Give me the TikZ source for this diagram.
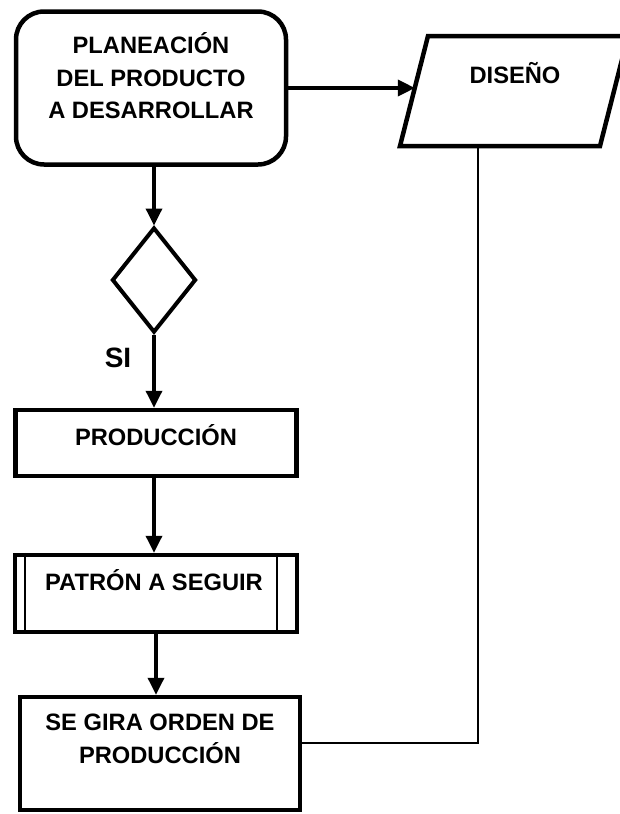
\documentclass[tikz,border=0pt]{standalone}
\usepackage{fontspec}
\setmainfont{Liberation Sans}
\usetikzlibrary{shapes.geometric,arrows.meta}

\begin{document}
\begin{tikzpicture}[x=1pt,y=-1pt,
  box/.style={draw,rectangle,inner sep=0pt,line width=4.5pt},
  caption/.style={inner sep=0pt,align=center,
    font=\fontsize{23.7}{32.5}\selectfont\bfseries},
  flow/.style={line width=3.5pt,-{Triangle[length=17pt,width=16pt]}},
  link/.style={line width=1.8pt},
  subline/.style={line width=1.8pt}
]
\useasboundingbox (0,0) rectangle (620,814);

% planning box
\node[box,rounded corners=28pt,minimum width=270pt,minimum height=153pt]
  (plan) at (151,88) {};
\node[caption] (plantext) at (151,76)
  {PLANEACIÓN\\DEL PRODUCTO\\A DESARROLLAR};

% design (parallelogram)
\coordinate (dBL) at (400,146);
\coordinate (dBR) at (600,146);
\coordinate (dTR) at (628,36);
\coordinate (dTL) at (428,36);
\coordinate (dL) at (414.9,88);
\node[inner sep=0pt,minimum width=200pt,minimum height=110pt] (diseno) at (514,91) {};
\draw[line width=4.5pt,line join=miter] (dBL) -- (dBR) -- (dTR) -- (dTL) -- cycle;
\node[caption,anchor=base] (disenotext) at (515,83.4) {DISEÑO};

% decision
\node[draw,diamond,inner sep=0pt,minimum width=84pt,minimum height=105pt,
  line width=4pt] (dec) at (154,280) {};
\node[inner sep=0pt,anchor=base,font=\fontsize{28}{30}\selectfont\bfseries]
  (si) at (118,367) {SI};

% production
\node[box,minimum width=281pt,minimum height=66pt] (prod) at (156,443) {};
\node[caption,anchor=base] (prodtext) at (156,445) {PRODUCCIÓN};

% predefined process
\node[box,minimum width=282pt,minimum height=77pt] (patron) at (156,593.5) {};
\draw[subline] ([xshift=12pt]patron.north west) -- ([xshift=12pt]patron.south west);
\draw[subline] ([xshift=-22pt]patron.north east) -- ([xshift=-22pt]patron.south east);
\node[caption,anchor=base] (patrontext) at (154,590) {PATRÓN A SEGUIR};

% order
\node[box,minimum width=280pt,minimum height=113pt] (gira) at (160,753.5) {};
\node[caption] (giratext) at (160,739)
  {SE GIRA ORDEN DE\\PRODUCCIÓN};

% connectors
\draw[flow] (plan.east) -- (dL);
\draw[flow] (plan.south -| dec.north) -- (dec.north);
\draw[flow] (dec.south) -- (prod.north -| dec.south);
\draw[flow] (prod.south -| dec.south) -- (patron.north -| dec.south);
\draw[flow] ([xshift=2pt]patron.south -| dec.south) -- ([xshift=2pt]gira.north -| dec.south);
\coordinate (bend) at (478,743);
\draw[link] (diseno.south -| bend) -- (bend) -- (gira.east |- bend);
\end{tikzpicture}
\end{document}
